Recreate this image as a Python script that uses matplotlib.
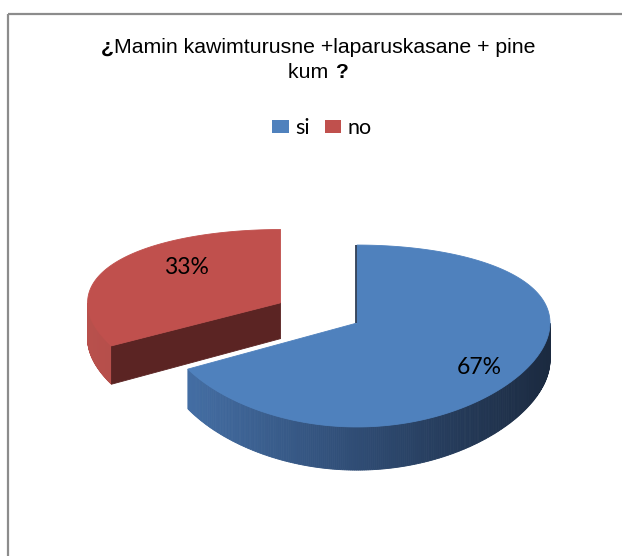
import numpy as np
import matplotlib
matplotlib.use("Agg")
import matplotlib.pyplot as plt
from matplotlib.patches import Polygon, Patch
from matplotlib.colors import LinearSegmentedColormap
from matplotlib.offsetbox import TextArea, HPacker, VPacker, AnchoredOffsetbox

# ---- data ----
categories = ["si", "no"]
values = [67, 33]
title_line1 = "Mamin kawimturusne +laparuskasane + pine"
title_line2 = "kum "

# ---- style ----
top_colors = ["#4F81BD", "#C0504D"]
wall_cmaps = [
    LinearSegmentedColormap.from_list("blue_wall", ["#4672AA", "#2F4C74", "#1B2A40"]),
    LinearSegmentedColormap.from_list("red_wall", ["#B8504C", "#A84643", "#7A302E"]),
]
cut_colors = ["#1E2F48", "#5B2423"]
explode = [0.0, 0.46]
label_r = [0.79, 0.66]
label_shift = [-6.0, -12.0]
label_z = [0.0, 0.0]

W, H = 622, 556
fig = plt.figure(figsize=(W / 100, H / 100), dpi=100)
ax = fig.add_axes([0, 0, 1, 1])
ax.set_xlim(0, W)
ax.set_ylim(H, 0)
ax.axis("off")

# 3-D pie projection parameters (pixel space)
cx, cy = 357.0, 323.0
R, Ry, k, depth = 193.0, 89.1, 0.1429, 37.0


def proj(u, v, z=0.0):
    u = np.asarray(u, float)
    v = np.asarray(v, float)
    den = 1.0 + k * v
    return cx + R * u, cy - Ry * v / den + depth * z / den


total = float(sum(values))
start = 90.0
slices = []
a_hi = start
for i, val in enumerate(values):
    sweep = 360.0 * val / total
    a_lo = a_hi - sweep
    mid = np.radians((a_hi + a_lo) / 2)
    ox, oy = explode[i] * np.cos(mid), explode[i] * np.sin(mid)
    slices.append((a_lo, a_hi, ox, oy))
    a_hi = a_lo

# draw the exploded slice first (it sits behind), then the main one
for i in [1, 0]:
    a_lo, a_hi, ox, oy = slices[i]
    th = np.radians(np.linspace(a_lo, a_hi, 400))
    u = np.cos(th) + ox
    v = np.sin(th) + oy

    # outer wall: only the front-facing part (sin < 0), shaded left to right
    idx = np.where(np.sin(th) <= 0)[0]
    if len(idx) > 1:
        segs = np.split(idx, np.where(np.diff(idx) != 1)[0] + 1)
        for seg in segs:
            for j in range(len(seg) - 1):
                a, b = seg[j], seg[j + 1]
                uu = np.array([u[a], u[b], u[b], u[a]])
                vv = np.array([v[a], v[b], v[b], v[a]])
                zz = np.array([0, 0, 1, 1])
                xs, ys = proj(uu, vv, zz)
                col = wall_cmaps[i]((np.cos(th[a]) + 1) / 2)
                ax.add_patch(Polygon(np.c_[xs, ys], closed=True, facecolor=col,
                                     edgecolor=col, lw=0.6))

    # radial cut faces that face the viewer
    for ang, sgn in [(a_lo, -1), (a_hi, 1)]:
        r = np.radians(ang)
        if sgn * np.cos(r) < -1e-6:
            uu = np.array([ox, ox + np.cos(r), ox + np.cos(r), ox])
            vv = np.array([oy, oy + np.sin(r), oy + np.sin(r), oy])
            zz = np.array([0, 0, 1, 1])
            xs, ys = proj(uu, vv, zz)
            ax.add_patch(Polygon(np.c_[xs, ys], closed=True, facecolor=cut_colors[i],
                                 edgecolor=cut_colors[i], lw=0.6))

    # top face
    xs, ys = proj(np.r_[ox, u], np.r_[oy, v])
    ax.add_patch(Polygon(np.c_[xs, ys], closed=True, facecolor=top_colors[i],
                         edgecolor=top_colors[i], lw=0.6))

# thin dark sliver on the main slice's vertical cut edge
a_lo, a_hi, ox, oy = slices[0]
xs, ys = proj([ox, ox + np.cos(np.radians(a_hi))], [oy, oy + np.sin(np.radians(a_hi))])
ax.plot(xs - 1.0, ys, color=cut_colors[0], lw=1.2, solid_capstyle="butt")

# percentage labels
for i, (a_lo, a_hi, ox, oy) in enumerate(slices):
    mid = np.radians((a_lo + a_hi) / 2 + label_shift[i])
    lx, ly = proj(ox + label_r[i] * np.cos(mid), oy + label_r[i] * np.sin(mid), label_z[i])
    ax.text(lx, ly, f"{values[i]}%", ha="center", va="center", fontsize=16.5,
            family="Lato", color="black")

# title, with bold inverted/closing question marks
fs_title = 15.3


def tpart(s, bold=False):
    return TextArea(s, textprops=dict(fontsize=fs_title, family="Liberation Sans",
                                      fontweight="bold" if bold else "normal"))


line1 = HPacker(children=[tpart("¿", True), tpart(title_line1)], pad=0, sep=0)
line2 = HPacker(children=[tpart(title_line2), tpart("?", True)], pad=0, sep=0)
title_box = VPacker(children=[line1, line2], align="center", pad=0, sep=4)
ab = AnchoredOffsetbox(loc="center", child=title_box, frameon=False,
                       bbox_to_anchor=(318 / W, 1 - 60 / H), bbox_transform=fig.transFigure,
                       borderpad=0, pad=0)
ax.add_artist(ab)

# legend
handles = [Patch(facecolor=top_colors[i], edgecolor="none") for i in range(len(categories))]
fig.legend(handles, categories, loc="center", bbox_to_anchor=(322 / W, 1 - 128 / H),
           ncol=2, frameon=False, prop=dict(family="Lato", size=15.5),
           handlelength=0.75, handleheight=0.6, handletextpad=0.3,
           columnspacing=0.7, borderpad=0)

# chart-area frame (top and left edges visible)
ax.plot([7.5, W + 5], [13.5, 13.5], color="#8C8C8C", lw=1.6, solid_capstyle="butt", clip_on=False)
ax.plot([7.5, 7.5], [13.5, H + 5], color="#8C8C8C", lw=1.6, solid_capstyle="butt", clip_on=False)

fig.savefig("out.png", dpi=100)
